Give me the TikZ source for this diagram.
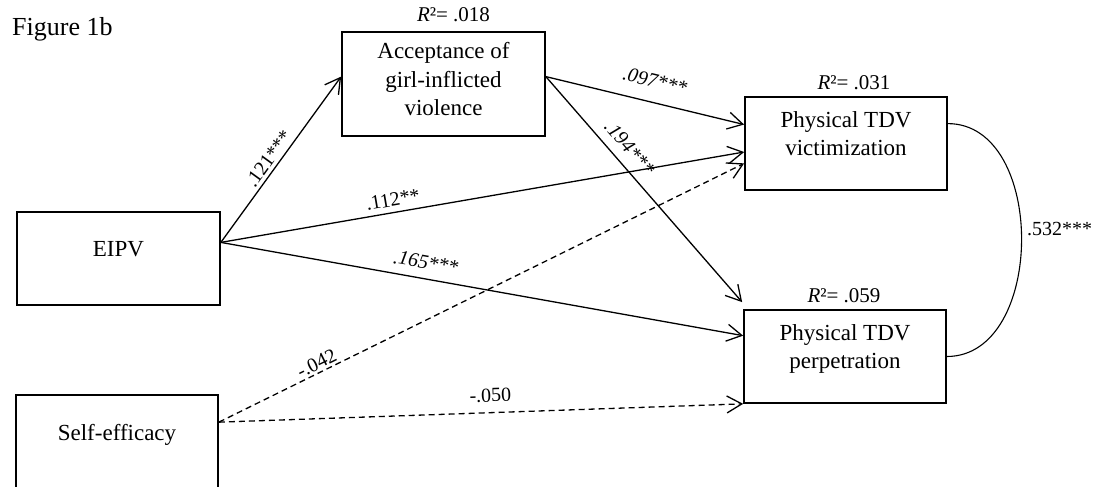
\documentclass[tikz,border=0pt]{standalone}
\usepackage{fontspec}
\setmainfont{Liberation Serif}
\usetikzlibrary{arrows.meta,calc}
\begin{document}
\begin{tikzpicture}[x=1pt,y=-1pt,
  box/.style={draw, line width=1.7pt, inner sep=0pt},
  boxtext/.style={font=\fontsize{23}{28.5}\selectfont, align=center, inner sep=0pt, anchor=north},
  lbl/.style={font=\fontsize{20}{24}\selectfont, inner sep=0pt},
  rsq/.style={font=\fontsize{21}{24}\selectfont, inner sep=0pt},
  edgeline/.style={line width=1.3pt, -{Straight Barb[length=15pt,width=17pt,line width=1.3pt]}},
  dashline/.style={edgeline, dash pattern=on 6pt off 4pt},
]
\useasboundingbox (0,0) rectangle (1101,487);

% boxes
\node[box, minimum width=203pt, minimum height=104pt] (acc) at (443.5,84) {};
\node[box, minimum width=203pt, minimum height=93pt] (eipv) at (118.5,258.5) {};
\node[box, minimum width=202pt, minimum height=110pt] (self) at (117,450) {};
\node[box, minimum width=202pt, minimum height=93pt] (vic) at (846,143.5) {};
\node[box, minimum width=202pt, minimum height=93pt] (perp) at (845,356.5) {};

% box texts
\node[boxtext] (acctext) at ($(acc.north)+(0,11)$) {Acceptance of\\girl-inflicted\\violence};
\node[boxtext] (victext) at ($(vic.north)+(0,15)$) {Physical TDV\\victimization};
\node[boxtext] (perptext) at ($(perp.north)+(0,15)$) {Physical TDV\\perpetration};
\node[boxtext] (eipvtext) at ($(eipv.north)+(0,30)$) {EIPV};
\node[boxtext] (selftext) at ($(self.north)+(0,30)$) {Self-efficacy};

% R squared
\node[rsq] (r1) at ($(acc.north)+(10,-16)$) {\textit{R}²= .018};
\node[rsq] (r2) at ($(vic.north)+(8,-13)$) {\textit{R}²= .031};
\node[rsq] (r3) at ($(perp.north)+(-1,-13)$) {\textit{R}²= .059};

% title
\node[font=\fontsize{26}{30}\selectfont, anchor=base west, inner sep=0pt] (fig) at (12,36) {Figure 1b};

% connection points
\coordinate (eo) at ($(eipv.north east)!0.33!(eipv.south east)$);
\coordinate (ai) at ($(acc.north west)!0.43!(acc.south west)$);
\coordinate (ao) at ($(acc.north east)!0.43!(acc.south east)$);
\coordinate (v1) at ($(vic.north west)!0.30!(vic.south west)$);
\coordinate (v2) at ($(vic.north west)!0.59!(vic.south west)$);
\coordinate (v3) at ($(vic.north west)!0.71!(vic.south west)$);
\coordinate (p1) at ($(perp.north west)+(-1,-7)$);
\coordinate (p2) at ($(perp.north west)!0.28!(perp.south west)$);
\coordinate (so) at ($(self.north east)+(0,28)$);
\coordinate (vc) at ($(vic.north east)!0.29!(vic.south east)$);

% edges
\draw[edgeline] (eo) -- node[lbl, pos=0.467, sloped, above=3pt] {.121***} (ai);
\draw[edgeline] (eo) -- node[lbl, pos=0.333, sloped, above=5.5pt] {.112**} (v2);
\draw[edgeline] (eo) -- node[lbl, pos=0.387, sloped, above=9pt] {\textit{.165***}} (p2);
\draw[edgeline] (ao) -- node[lbl, pos=0.525, sloped, above=14pt] {\textit{.097***}} (v1);
\draw[edgeline] (ao) -- node[lbl, pos=0.364, sloped, above=9pt] {\textit{.194***}} (p1);
\draw[dashline] (so) -- node[lbl, pos=0.194, sloped, above=2pt] {-.042} (v3);
\draw[dashline] (so) -- node[lbl, pos=0.519, sloped, above=10pt] {-.050} (perp.south west);
\draw[line width=1.1pt] (vc) .. controls +(99,0) and +(99,0) .. node[lbl, pos=0.5, anchor=west, xshift=5pt, yshift=11pt] {.532***} (perp.east);
\end{tikzpicture}
\end{document}
